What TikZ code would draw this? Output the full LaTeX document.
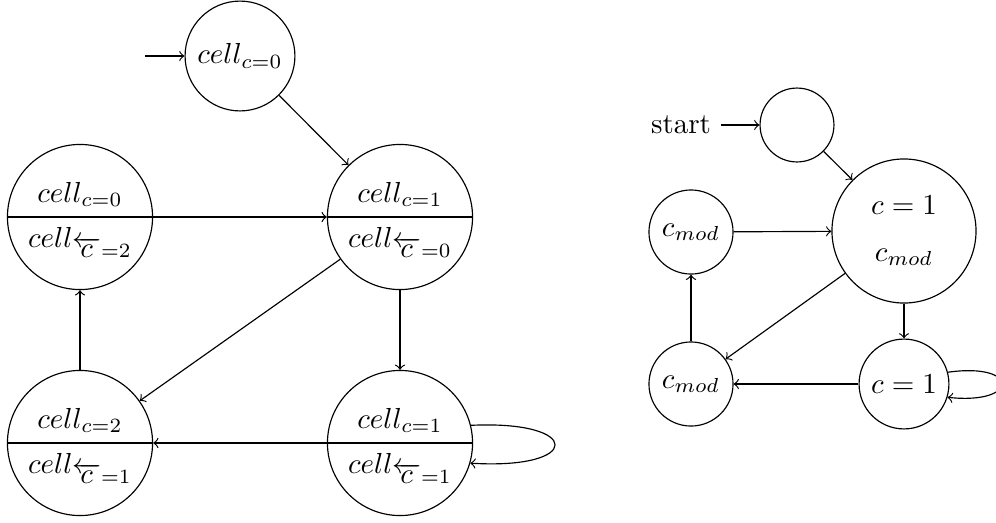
\documentclass[tikz,border=0pt]{standalone}
\usetikzlibrary{shapes.multipart}
\begin{document}
\begin{tikzpicture}[x=0.345pt,y=-0.345pt,>=to,
  state/.style={draw,circle,inner sep=0pt},
  splitstate/.style={draw,circle split,inner xsep=0.3pt,inner ysep=3.3pt,minimum size=49.7pt}]
\useasboundingbox (0,0) rectangle (996,522);

% left automaton
\node[state,minimum size=37.9pt] (t) at (240,56) {$cell_{c=0}$};
\coordinate (tin) at (145,56);
\node[splitstate] (ml) at (80,217) {$cell_{c=0}$ \nodepart{lower} $cell_{\overleftarrow{c}=2}$};
\node[splitstate] (mr) at (400,217) {$cell_{c=1}$ \nodepart{lower} $cell_{\overleftarrow{c}=0}$};
\node[splitstate] (bl) at (80,443) {$cell_{c=2}$ \nodepart{lower} $cell_{\overleftarrow{c}=1}$};
\node[splitstate] (br) at (400,443) {$cell_{c=1}$ \nodepart{lower} $cell_{\overleftarrow{c}=1}$};

\draw[->] (tin) -- (t);
\draw[->] (t) -- (mr);
\draw[->] (ml) -- (mr);
\draw[->] (mr) -- (bl);
\draw[->] (mr) -- (br);
\draw[->] (br) -- (bl);
\draw[->] (bl) -- (ml);
\draw[->] (br.14) .. controls (583,420) and (583,470) .. (br.-16);

% right automaton
\node[inner sep=3.33pt] (lbl) at (681,125) {start};
\node[state,minimum size=25.5pt] (s0) at (797,125) {};
\node[state,minimum size=49.7pt,align=center] (big) at (904,231) {$c = 1$\\[4pt]$c_{mod}$};
\node[state,minimum size=29pt] (ca) at (691,232) {$c_{mod}$};
\node[state,minimum size=29pt] (cb) at (691,384) {$c_{mod}$};
\node[state,minimum size=31pt] (c1) at (904,384) {$c = 1$};

\draw[->] (lbl) -- (s0);
\draw[->] (s0) -- (big);
\draw[->] (ca) -- (big);
\draw[->] (big) -- (cb);
\draw[->] (big) -- (c1);
\draw[->] (c1) -- (cb);
\draw[->] (cb) -- (ca);
\draw[->] (c1.15) .. controls (1020,362) and (1020,405) .. (c1.-17);
\end{tikzpicture}
\end{document}
